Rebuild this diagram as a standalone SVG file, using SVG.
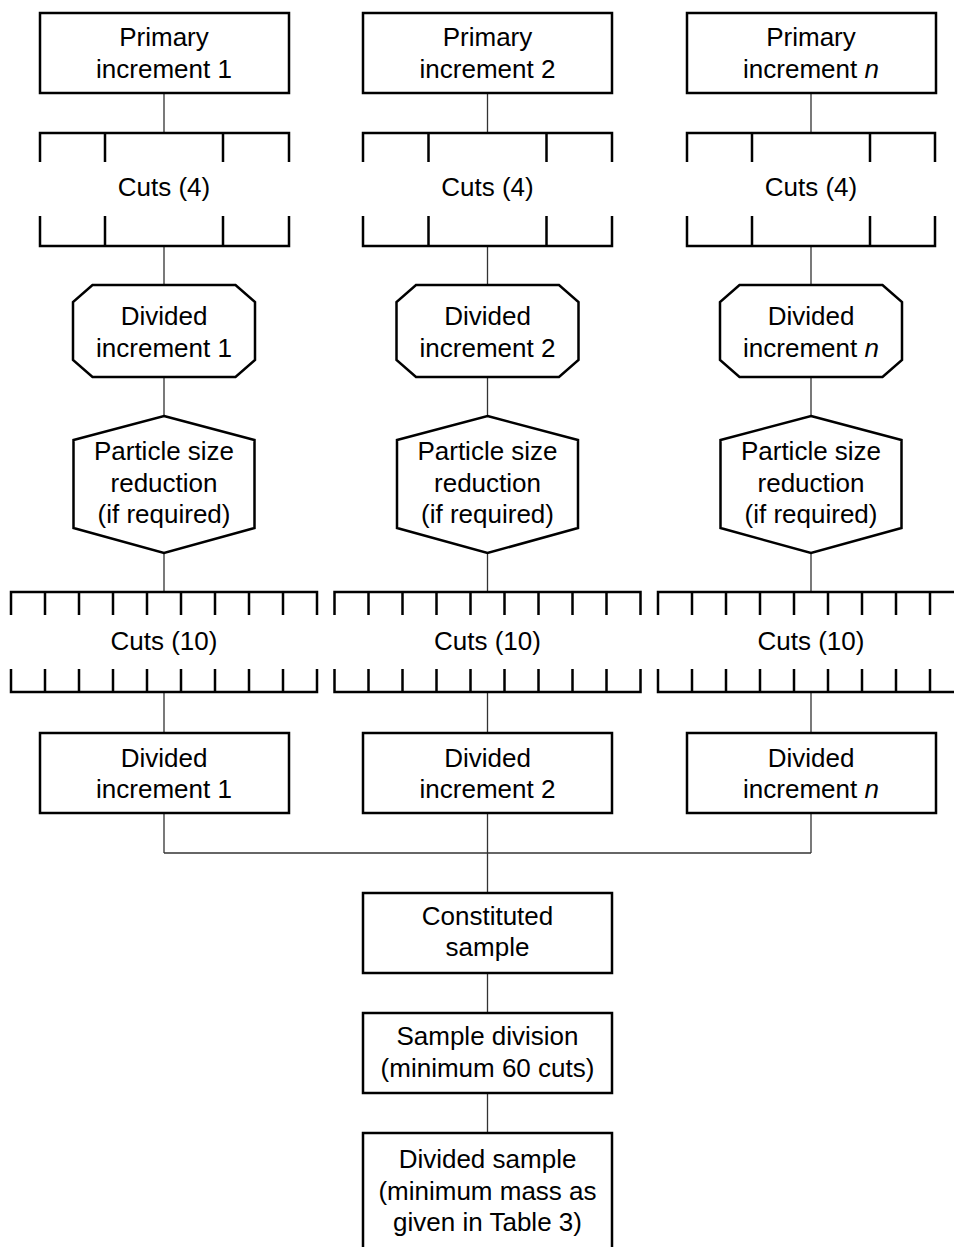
<svg xmlns="http://www.w3.org/2000/svg" width="954" height="1247" viewBox="0 0 954 1247">
<style>
.box{fill:#fff;stroke:#000;stroke-width:2.5}
.br{fill:none;stroke:#000;stroke-width:2.5;stroke-linejoin:miter}
.cn{fill:none;stroke:#333;stroke-width:1.3}
text{font-family:"Liberation Sans",Arial,sans-serif;font-size:26px;fill:#000;text-anchor:middle}
</style>
<rect width="954" height="1247" fill="#fff"/>
<g id="connectors">
<path class="cn" d="M164,93V133M164,246V285M164,377V416M164,553V592M164,692V733M164,813V853"/>
<path class="cn" d="M487.5,93V133M487.5,246V285M487.5,377V416M487.5,553V592M487.5,692V733M487.5,813V893"/>
<path class="cn" d="M811,93V133M811,246V285M811,377V416M811,553V592M811,692V733M811,813V853"/>
<path class="cn" d="M164,853H811"/>
<path class="cn" d="M487.5,973V1013M487.5,1093V1133"/>
</g>
<g id="primary1"><rect class="box" x="40" y="13" width="249" height="80"/><text x="164" y="46">Primary</text><text x="164" y="78">increment 1</text></g>
<g id="primary2"><rect class="box" x="363" y="13" width="249" height="80"/><text x="487.5" y="46">Primary</text><text x="487.5" y="78">increment 2</text></g>
<g id="primaryn"><rect class="box" x="687" y="13" width="249" height="80"/><text x="811" y="46">Primary</text><text x="811" y="78">increment <tspan font-style="italic">n</tspan></text></g>
<g id="cuts4a"><path class="br" d="M40,162V133H289V162M105,133V162M223,133V162M40,216V246H289V216M105,246V216M223,246V216"/><text x="164" y="196">Cuts (4)</text></g>
<g id="cuts4b"><path class="br" d="M363,162V133H612V162M428.5,133V162M546.5,133V162M363,216V246H612V216M428.5,246V216M546.5,246V216"/><text x="487.5" y="196">Cuts (4)</text></g>
<g id="cuts4c"><path class="br" d="M687,162V133H935V162M752,133V162M870,133V162M687,216V246H935V216M752,246V216M870,246V216"/><text x="811" y="196">Cuts (4)</text></g>
<g id="oct1"><polygon class="box" points="92.5,285 235.5,285 255,302 255,360 235.5,377 92.5,377 73,360 73,302"/><text x="164" y="325">Divided</text><text x="164" y="357">increment 1</text></g>
<g id="oct2"><polygon class="box" points="416,285 559,285 578.5,302 578.5,360 559,377 416,377 396.5,360 396.5,302"/><text x="487.5" y="325">Divided</text><text x="487.5" y="357">increment 2</text></g>
<g id="octn"><polygon class="box" points="739.5,285 882.5,285 902,302 902,360 882.5,377 739.5,377 720,360 720,302"/><text x="811" y="325">Divided</text><text x="811" y="357">increment <tspan font-style="italic">n</tspan></text></g>
<g id="hex1"><polygon class="box" points="164,416 254.5,440 254.5,528 164,553 73.5,528 73.5,440"/><text x="164" y="460">Particle size</text><text x="164" y="492">reduction</text><text x="164" y="523">(if required)</text></g>
<g id="hex2"><polygon class="box" points="487.5,416 578,440 578,528 487.5,553 397,528 397,440"/><text x="487.5" y="460">Particle size</text><text x="487.5" y="492">reduction</text><text x="487.5" y="523">(if required)</text></g>
<g id="hexn"><polygon class="box" points="811,416 901.5,440 901.5,528 811,553 720.5,528 720.5,440"/><text x="811" y="460">Particle size</text><text x="811" y="492">reduction</text><text x="811" y="523">(if required)</text></g>
<g id="cuts10a"><path class="br" d="M11,615V592H317V615M45,592V615M79,592V615M113,592V615M147,592V615M181,592V615M215,592V615M249,592V615M283,592V615M11,669V692H317V669M45,692V669M79,692V669M113,692V669M147,692V669M181,692V669M215,692V669M249,692V669M283,692V669"/><text x="164" y="650">Cuts (10)</text></g>
<g id="cuts10b"><path class="br" d="M334.5,615V592H640.5V615M368.5,592V615M402.5,592V615M436.5,592V615M470.5,592V615M504.5,592V615M538.5,592V615M572.5,592V615M606.5,592V615M334.5,669V692H640.5V669M368.5,692V669M402.5,692V669M436.5,692V669M470.5,692V669M504.5,692V669M538.5,692V669M572.5,692V669M606.5,692V669"/><text x="487.5" y="650">Cuts (10)</text></g>
<g id="cuts10c"><path class="br" d="M658,615V592H964V615M692,592V615M726,592V615M760,592V615M794,592V615M828,592V615M862,592V615M896,592V615M930,592V615M658,669V692H964V669M692,692V669M726,692V669M760,692V669M794,692V669M828,692V669M862,692V669M896,692V669M930,692V669"/><text x="811" y="650">Cuts (10)</text></g>
<g id="div1"><rect class="box" x="40" y="733" width="249" height="80"/><text x="164" y="767">Divided</text><text x="164" y="798">increment 1</text></g>
<g id="div2"><rect class="box" x="363" y="733" width="249" height="80"/><text x="487.5" y="767">Divided</text><text x="487.5" y="798">increment 2</text></g>
<g id="divn"><rect class="box" x="687" y="733" width="249" height="80"/><text x="811" y="767">Divided</text><text x="811" y="798">increment <tspan font-style="italic">n</tspan></text></g>
<g id="constituted"><rect class="box" x="363" y="893" width="249" height="80"/><text x="487.5" y="925">Constituted</text><text x="487.5" y="956">sample</text></g>
<g id="division"><rect class="box" x="363" y="1013" width="249" height="80"/><text x="487.5" y="1045">Sample division</text><text x="487.5" y="1077">(minimum 60 cuts)</text></g>
<g id="divsample"><rect class="box" x="363" y="1133" width="249" height="130"/><text x="487.5" y="1168">Divided sample</text><text x="487.5" y="1200">(minimum mass as</text><text x="487.5" y="1231">given in Table 3)</text></g>
</svg>
